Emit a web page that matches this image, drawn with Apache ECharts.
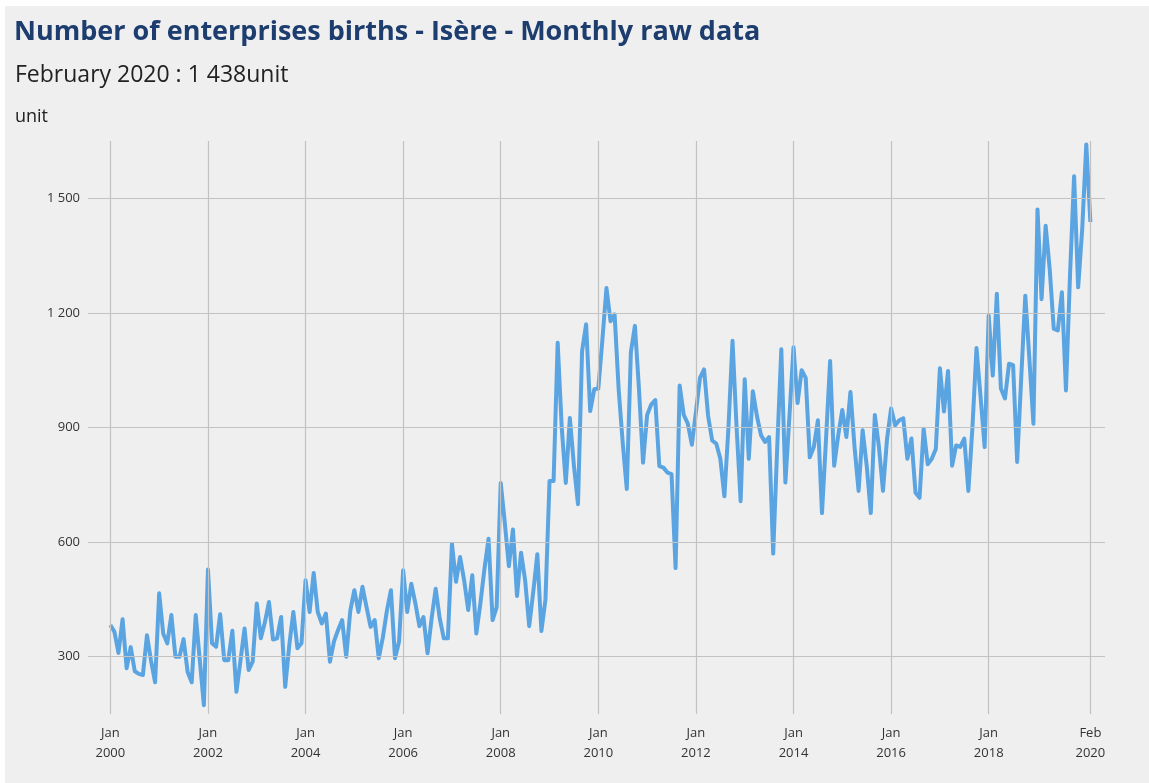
<!DOCTYPE html>
<html>
<head>
<meta charset="utf-8">
<script src="https://cdn.jsdelivr.net/npm/echarts@6/dist/echarts.min.js"></script>
<style>
  html, body { margin: 0; padding: 0; background: #fff; }
  #chart { position: absolute; left: 0; top: 0; width: 1149px; height: 783px; background: #efefef; }
  .edge { position: absolute; background: #fff; }
</style>
</head>
<body>
<div id="chart"></div>
<div class="edge" style="left:0;top:0;width:1149px;height:6px"></div>
<div class="edge" style="left:0;top:0;width:5px;height:783px"></div>
<script>
// monthly births, Jan 2000 .. Feb 2020 (one row per year)
const births = [
  383, 365, 310, 398, 270, 325, 262, 255, 252, 356, 290, 233, // 2000
  466, 360, 335, 409, 300, 300, 346, 260, 233, 409, 290, 173, // 2001
  528, 335, 326, 411, 291, 291, 368, 208, 290, 374, 265, 287, // 2002
  439, 348, 390, 443, 345, 348, 404, 221, 330, 417, 322, 335, // 2003
  500, 417, 519, 417, 387, 413, 287, 340, 370, 396, 300, 420, // 2004
  474, 417, 483, 430, 378, 396, 296, 350, 420, 474, 296, 340, // 2005
  526, 417, 491, 440, 380, 404, 309, 400, 478, 400, 348, 348, // 2006
  596, 496, 561, 500, 422, 513, 361, 440, 530, 609, 396, 430, // 2007
  755, 650, 537, 633, 459, 572, 500, 380, 470, 568, 367, 450, // 2008
  760, 760, 1122, 900, 755, 925, 800, 699, 1100, 1170, 943, 1000, // 2009
  1002, 1130, 1265, 1178, 1196, 1000, 860, 739, 1097, 1166, 1000, 808, // 2010
  933, 960, 972, 799, 795, 782, 778, 532, 1010, 933, 910, 855, // 2011
  940, 1030, 1052, 930, 866, 858, 818, 720, 900, 1127, 900, 707, // 2012
  1026, 818, 995, 930, 880, 862, 875, 570, 850, 1105, 756, 930, // 2013
  1110, 964, 1050, 1030, 822, 849, 919, 676, 870, 1074, 800, 880, // 2014
  946, 875, 993, 850, 734, 893, 800, 676, 933, 850, 734, 870, // 2015
  950, 906, 919, 924, 818, 871, 729, 716, 897, 804, 818, 844, // 2016
  1055, 942, 1048, 800, 853, 849, 871, 734, 900, 1108, 980, 849, // 2017
  1193, 1036, 1250, 1002, 976, 1067, 1063, 810, 1030, 1245, 1080, 910, // 2018
  1471, 1236, 1428, 1315, 1158, 1154, 1254, 997, 1300, 1558, 1267, 1420, // 2019
  1641, 1438 // 2020
];

const xTickIndex = [0, 24, 48, 72, 96, 120, 144, 168, 192, 216, 241];
const xTickLabels = ['Jan\n2000', 'Jan\n2002', 'Jan\n2004', 'Jan\n2006', 'Jan\n2008', 'Jan\n2010',
  'Jan\n2012', 'Jan\n2014', 'Jan\n2016', 'Jan\n2018', 'Feb\n2020'];
const yTicks = [300, 600, 900, 1200, 1500];

const font = 'Open Sans';
const points = births.map((v, i) => [i, v]);

// grid lines as mark lines so they can sit on custom values
const gridLines = yTicks.map(v => ({ yAxis: v })).concat(xTickIndex.map(i => ({ xAxis: i })));

const option = {
  animation: false,
  title: [
    {
      text: 'Number of enterprises births - Isère - Monthly raw data',
      left: 14, top: 15, padding: 0,
      textStyle: { fontFamily: font, fontSize: 27, fontWeight: 'bold', color: '#1d3d6e', lineHeight: 34 }
    },
    {
      text: 'February 2020 : 1 438unit',
      left: 15, top: 61, padding: 0,
      textStyle: { fontFamily: font, fontSize: 23, fontWeight: 'normal', color: '#222', lineHeight: 28 }
    },
    {
      text: 'unit',
      left: 15, top: 106, padding: 0,
      textStyle: { fontFamily: font, fontSize: 18, fontWeight: 'normal', color: '#222', lineHeight: 22 }
    }
  ],
  grid: { left: 88, right: 44, top: 141, bottom: 69, containLabel: false },
  xAxis: {
    type: 'value',
    min: -5.5,
    max: 244.6,
    axisLine: { show: false },
    axisTick: { show: false },
    splitLine: { show: false },
    axisLabel: {
      customValues: xTickIndex,
      formatter: v => xTickLabels[xTickIndex.indexOf(v)] || '',
      fontFamily: font, fontSize: 13, color: '#333', lineHeight: 20, margin: 9
    }
  },
  yAxis: {
    type: 'value',
    min: 150,
    max: 1650,
    axisLine: { show: false },
    axisTick: { show: false },
    splitLine: { show: false },
    axisLabel: {
      customValues: yTicks,
      formatter: v => String(v).replace(/\B(?=(\d{3})+(?!\d))/g, ' '),
      fontFamily: font, fontSize: 13, color: '#333', margin: 8
    }
  },
  series: [
    {
      type: 'line',
      data: points,
      symbol: 'none',
      silent: true,
      z: 1,
      lineStyle: { opacity: 0 },
      markLine: {
        silent: true,
        symbol: 'none',
        label: { show: false },
        lineStyle: { color: '#c2c2c2', width: 1.2, type: 'solid' },
        data: gridLines
      }
    },
    {
      type: 'line',
      data: points,
      symbol: 'none',
      z: 3,
      lineStyle: { color: '#5aa4e1', width: 4, join: 'round' }
    }
  ]
};

const chart = echarts.init(document.getElementById('chart'));
chart.setOption(option);
</script>
</body>
</html>
